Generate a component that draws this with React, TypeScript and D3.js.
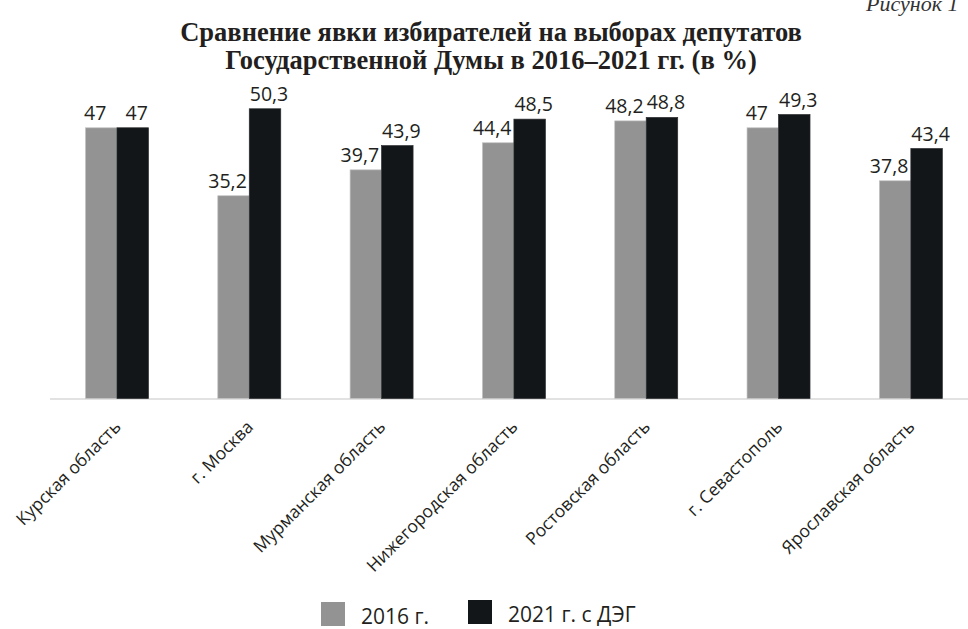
import React from 'react'
import * as d3 from 'd3'

const regions = [
    'Курская область',
    'г. Москва',
    'Мурманская область',
    'Нижегородская область',
    'Ростовская область',
    'г. Севастополь',
    'Ярославская область'
]
const turnout2016 = [47, 35.2, 39.7, 44.4, 48.2, 47, 37.8]
const turnout2021 = [47, 50.3, 43.9, 48.5, 48.8, 49.3, 43.4]
const seriesNames = ['2016 г.', '2021 г. с ДЭГ']
const titleLines = [
    'Сравнение явки избирателей на выборах депутатов',
    'Государственной Думы в 2016–2021 гг. (в %)'
]

const W = 968
const H = 629
const colors = ['#939393', '#131619']
const sans = '"Open Sans", sans-serif'
const serif = '"Liberation Serif", "DejaVu Serif", serif'

const fmt = (v: number) => String(v).replace('.', ',')

const App: React.FC = () => {
    const x = d3
        .scaleBand<string>()
        .domain(regions)
        .range([50.8, 977])
        .paddingInner(0.524)
        .paddingOuter(0.262)
    const inner = d3
        .scaleBand<number>()
        .domain([0, 1])
        .range([0, x.bandwidth()])
    const y = d3.scaleLinear().domain([0, 50]).range([398.5, 110.5])

    const series = [turnout2016, turnout2021]
    // nudge labels apart like the original
    const labelDx = [-6, 4]

    return (
        <svg
            width={W}
            height={H}
            style={{ position: 'absolute', left: 0, top: 0, background: '#fff' }}
        >
            <text
                x={866}
                y={11}
                fontFamily={serif}
                fontStyle='italic'
                fontSize={22}
                fill='#333'
            >
                Рисунок 1
            </text>
            {titleLines.map((t, i) => (
                <text
                    key={t}
                    x={491}
                    y={41 + i * 28}
                    textAnchor='middle'
                    fontFamily={serif}
                    fontWeight='bold'
                    fontSize={26.5}
                    fill='#231f20'
                >
                    {t}
                </text>
            ))}
            <line
                x1={50}
                x2={W}
                y1={y(0) + 0.5}
                y2={y(0) + 0.5}
                stroke='#d9d9d9'
                strokeWidth={1.5}
            />
            {regions.map((r, i) => (
                <g key={r} transform={`translate(${x(r)},0)`}>
                    {series.map((s, k) => (
                        <g key={k}>
                            <rect
                                x={inner(k)}
                                y={y(s[i])}
                                width={inner.bandwidth()}
                                height={y(0) - y(s[i])}
                                fill={colors[k]}
                                stroke={k === 0 ? '#c4c4c4' : '#2a2d30'}
                                strokeWidth={0.7}
                            />
                            <text
                                x={(inner(k) as number) + inner.bandwidth() / 2 + labelDx[k]}
                                y={y(s[i]) - 8}
                                textAnchor='middle'
                                fontFamily={sans}
                                fontSize={19.5}
                                fill='#231f20'
                            >
                                {fmt(s[i])}
                            </text>
                        </g>
                    ))}
                </g>
            ))}
            {regions.map((r) => (
                <text
                    key={r}
                    transform={`translate(${(x(r) as number) + x.bandwidth() / 2 + 5},428) rotate(-45)`}
                    textAnchor='end'
                    fontFamily={sans}
                    fontSize={17.5}
                    fill='#231f20'
                >
                    {r}
                </text>
            ))}
            {seriesNames.map((n, k) => (
                <g key={n} transform={`translate(${k === 0 ? 321 : 468},${k === 0 ? 602 : 600})`}>
                    <rect width={24} height={24} fill={colors[k]} />
                    <text
                        x={40}
                        y={22}
                        fontFamily={sans}
                        fontSize={21}
                        fill='#231f20'
                    >
                        {n}
                    </text>
                </g>
            ))}
        </svg>
    )
}

export default App
